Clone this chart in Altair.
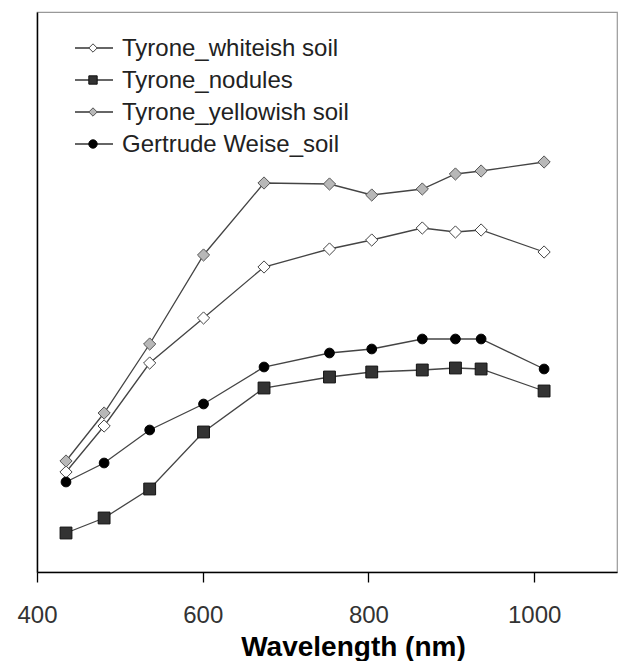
import altair as alt
import pandas as pd

# Wavelengths (nm)
wavelength = [435, 481, 536, 601, 674, 753, 804, 865, 905, 936, 1012]

# Relative reflectance (arbitrary units, y axis unlabeled)
whiteish = [10.0, 14.6, 20.9, 25.4, 30.5, 32.3, 33.2, 34.4, 34.0, 34.2, 32.0]
nodules = [3.9, 5.4, 8.3, 14.0, 18.4, 19.5, 20.0, 20.2, 20.4, 20.3, 18.1]
yellowish = [11.1, 15.9, 22.8, 31.7, 38.9, 38.8, 37.7, 38.3, 39.8, 40.1, 41.0]
gertrude = [9.0, 10.9, 14.2, 16.8, 20.5, 21.9, 22.3, 23.3, 23.3, 23.3, 20.3]

series_names = ["Tyrone_whiteish soil", "Tyrone_nodules", "Tyrone_yellowish soil", "Gertrude Weise_soil"]
series_values = [whiteish, nodules, yellowish, gertrude]

rows = []
for name, vals in zip(series_names, series_values):
    for w, v in zip(wavelength, vals):
        rows.append({"series": name, "wavelength": w, "value": v})
df = pd.DataFrame(rows)

shapes = ["diamond", "square", "diamond", "circle"]
fills = ["#ffffff", "#333333", "#b8b8b8", "#000000"]
strokes = ["#444444", "#111111", "#555555", "#000000"]
sizes = [150, 140, 150, 95]

FONT = "Liberation Sans"

xenc = alt.X("wavelength:Q",
             scale=alt.Scale(domain=[400, 1100], nice=False, zero=False),
             axis=alt.Axis(values=[400, 600, 800, 1000], format="d", grid=False, tickSize=10,
                           tickColor="#000", tickWidth=1.3, domainColor="#000",
                           domainWidth=1.5, labelFontSize=24, labelColor="#333",
                           labelFont=FONT, labelPadding=21, labelFlush=False,
                           title="Wavelength (nm)", titleFont=FONT, titleFontSize=28,
                           titleFontWeight="bold", titleColor="#000",
                           titleX=316, titleY=83, titleBaseline="alphabetic",
                           titleAlign="center"))
yenc = alt.Y("value:Q",
             scale=alt.Scale(domain=[0, 56], nice=False),
             axis=alt.Axis(title=None, labels=False, ticks=False, grid=False,
                           domainColor="#000", domainWidth=1.5))

base = alt.Chart(df)

lines = base.mark_line(color="#444444", strokeWidth=1.3).encode(
    x=xenc, y=yenc, detail="series:N")

layers = [lines]
for name, shp, fl, st, sz in zip(series_names, shapes, fills, strokes, sizes):
    layers.append(
        alt.Chart(df[df.series == name]).mark_point(
            shape=shp, filled=True, fill=fl, stroke=st, strokeWidth=1, size=sz, opacity=1
        ).encode(x=xenc, y=yenc)
    )

# Manual legend (top-left inside plot)
leg_y = [36, 68, 100, 132]
for name, shp, fl, st, ly in zip(series_names, shapes, fills, strokes, leg_y):
    ldf = pd.DataFrame({"series": [name]})
    layers.append(alt.Chart(ldf).mark_rule(color="#333333", strokeWidth=1.5).encode(
        x=alt.value(38), x2=alt.value(76), y=alt.value(ly)))
    layers.append(alt.Chart(ldf).mark_point(
        shape=shp, filled=True, fill=fl, stroke=st, strokeWidth=1, size=70, opacity=1
    ).encode(x=alt.value(56), y=alt.value(ly)))
    layers.append(alt.Chart(ldf).mark_text(
        align="left", baseline="middle", font=FONT, fontSize=24, color="#222222"
    ).encode(x=alt.value(85), y=alt.value(ly + 1), text="series:N"))

chart = alt.layer(*layers).properties(
    width=580, height=560,
    autosize=alt.AutoSizeParams(type="none"),
    padding={"left": 37, "top": 12, "right": 1, "bottom": 89},
    background="#ffffff",
).configure_view(stroke="#999999", strokeWidth=1.2)

chart.save("out.html", embed_options={"renderer": "svg", "actions": False})
